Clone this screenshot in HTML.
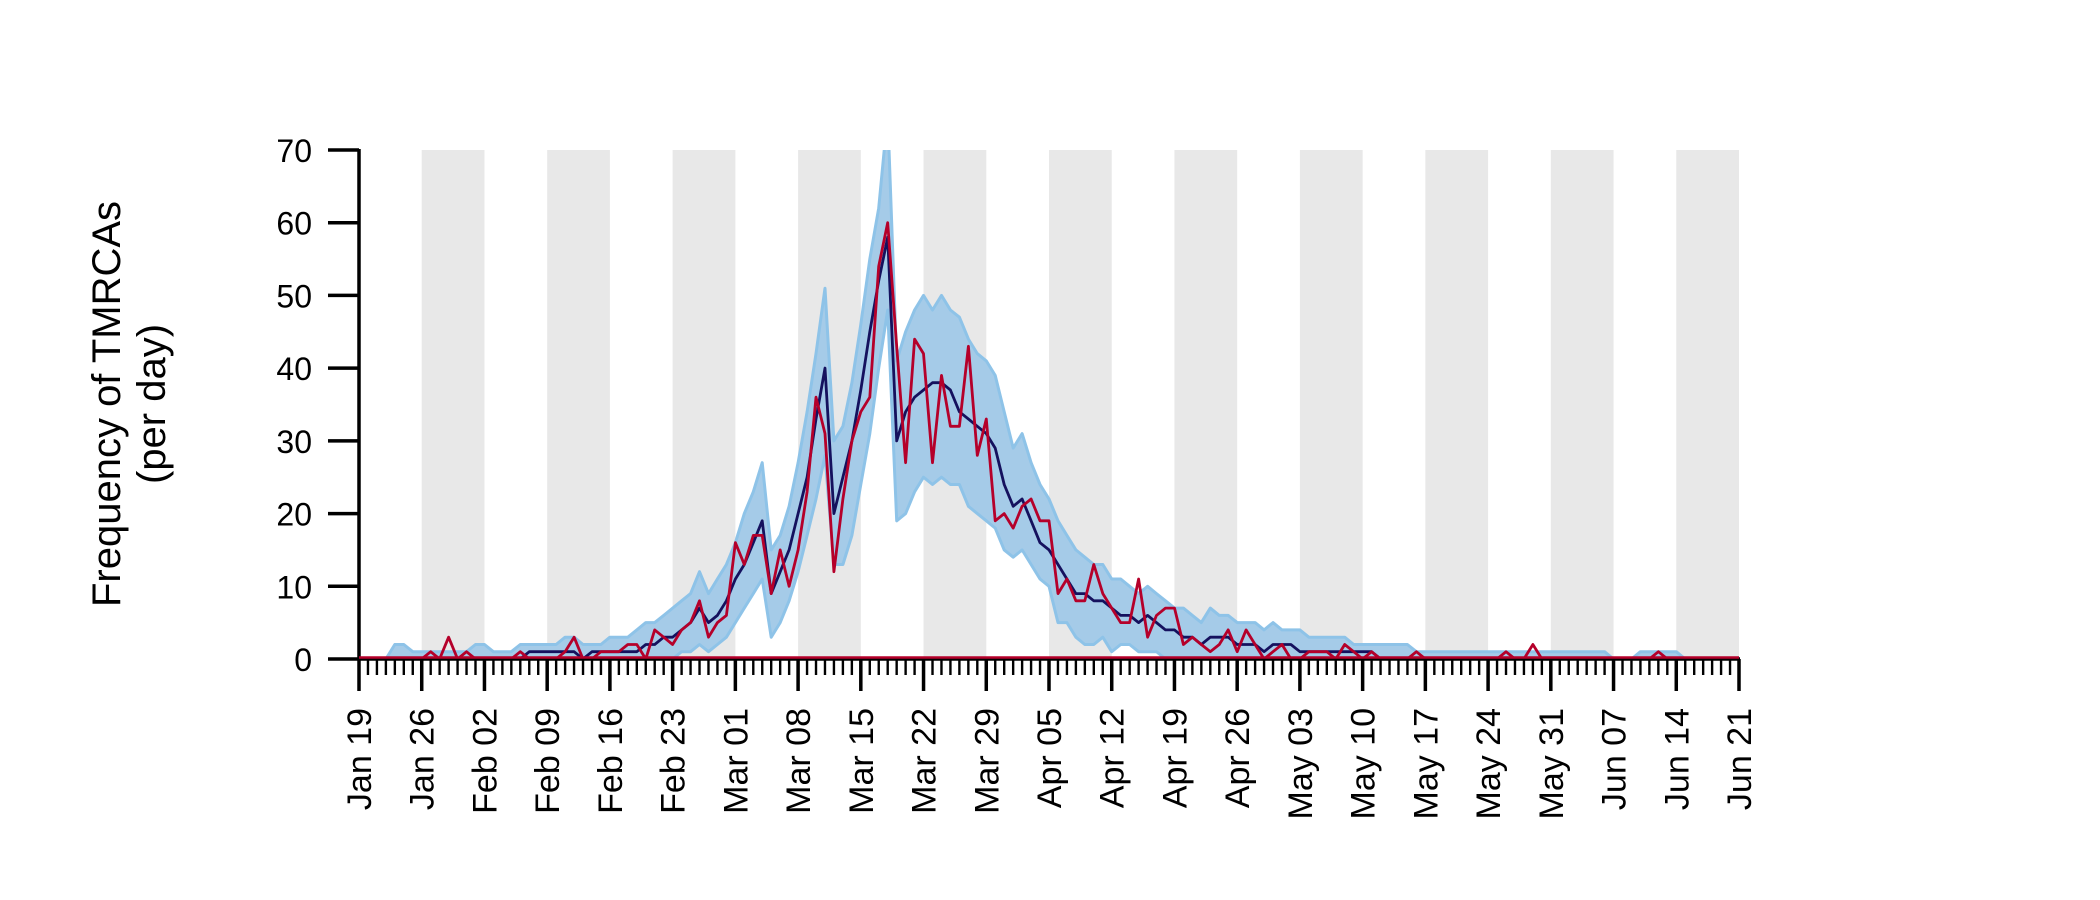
<!DOCTYPE html>
<html><head><meta charset="utf-8"><style>
html,body{margin:0;padding:0;background:#fff;}
svg{display:block;font-family:"Liberation Sans",Arial,sans-serif;}
</style></head><body>
<svg id="chart" width="2100" height="900" viewBox="0 0 2100 900">
<defs><clipPath id="plotclip"><rect x="359" y="150" width="1381" height="520"/></clipPath></defs>
<g id="bands"></g>
<g id="series" clip-path="url(#plotclip)"></g>
<g id="axes"></g>
<text transform="translate(107,404) rotate(-90)" text-anchor="middle" dominant-baseline="central" font-size="40" fill="#000">Frequency of TMRCAs</text>
<text transform="translate(152,404) rotate(-90)" text-anchor="middle" dominant-baseline="central" font-size="40" fill="#000">(per day)</text>
</svg>
<script>
const weekLabels = ["Jan 19","Jan 26","Feb 02","Feb 09","Feb 16","Feb 23","Mar 01","Mar 08","Mar 15","Mar 22","Mar 29","Apr 05","Apr 12","Apr 19","Apr 26","May 03","May 10","May 17","May 24","May 31","Jun 07","Jun 14","Jun 21"];
const yTicks = [0,10,20,30,40,50,60,70];
const observed = [
0,0,0,0,0,0,0,0,1,0, 3,0,1,0,0,0,0,0,1,0, 0,0,0,1,3,0,0,1,1,1,
2,2,0,4,3,2,4,5,8,3, 5,6,16,13,17,17,9,15,10,15, 23,36,31,12,22,30,34,36,54,60,
43,27,44,42,27,39,32,32,43,28, 33,19,20,18,21,22,19,19,9,11, 8,8,13,9,7,5,5,11,3,6,
7,7,2,3,2,1,2,4,1,4, 2,0,1,2,0,0,1,1,1,0, 2,1,0,1,0,0,0,0,1,0,
0,0,0,0,0,0,0,0,1,0, 0,2,0,0,0,0,0,0,0,0, 0,0,0,0,0,1,0,0,0,0, 0,0,0,0,0];
const meanVals = [
0,0,0,0,0,0,0,0,0,0, 0,0,0,0,0,0,0,0,0,1, 1,1,1,1,1,0,1,1,1,1,
1,1,2,2,3,3,4,5,7,5, 6,8,11,13,16,19,9,12,15,20, 25,33,40,20,25,30,37,45,52,58,
30,34,36,37,38,38,37,34,33,32, 31,29,24,21,22,19,16,15,13,11, 9,9,8,8,7,6,6,5,6,5,
4,4,3,3,2,3,3,3,2,2, 2,1,2,2,2,1,1,1,1,1, 1,1,1,1,0,0,0,0,0,0,
0,0,0,0,0,0,0,0,0,0, 0,0,0,0,0,0,0,0,0,0, 0,0,0,0,0,0,0,0,0,0, 0,0,0,0,0];
const upperVals = [
0,0,0,0,2,2,1,1,1,1, 1,1,1,2,2,1,1,1,2,2, 2,2,2,3,3,2,2,2,3,3,
3,4,5,5,6,7,8,9,12,9, 11,13,16,20,23,27,15,17,21,27, 34,42,51,30,32,38,46,55,62,75,
41,45,48,50,48,50,48,47,44,42, 41,39,34,29,31,27,24,22,19,17, 15,14,13,13,11,11,10,9,10,9,
8,7,7,6,5,7,6,6,5,5, 5,4,5,4,4,4,3,3,3,3, 3,2,2,2,2,2,2,2,1,1,
1,1,1,1,1,1,1,1,1,1, 1,1,1,1,1,1,1,1,1,1, 0,0,0,1,1,1,1,1,0,0, 0,0,0,0,0];
const lowerVals = [
0,0,0,0,0,0,0,0,0,0, 0,0,0,0,0,0,0,0,0,0, 0,0,0,0,0,0,0,0,0,0,
0,0,0,0,0,0,1,1,2,1, 2,3,5,7,9,11,3,5,8,12, 17,22,28,13,13,17,24,31,40,48,
19,20,23,25,24,25,24,24,21,20, 19,18,15,14,15,13,11,10,5,5, 3,2,2,3,1,2,2,1,1,1,
0,0,0,0,0,0,0,0,0,0, 0,0,0,0,0,0,0,0,0,0, 0,0,0,0,0,0,0,0,0,0,
0,0,0,0,0,0,0,0,0,0, 0,0,0,0,0,0,0,0,0,0, 0,0,0,0,0,0,0,0,0,0, 0,0,0,0,0];

const NS='http://www.w3.org/2000/svg';
const X0=359, X1=1739, Y0=659, Y1=150, NDAYS=154, YMAX=70;
const xs = d => X0 + d*(X1-X0)/NDAYS;
const ys = v => Y0 - v*(Y0-Y1)/YMAX;
function mk(tag, attrs, parent){const e=document.createElementNS(NS,tag);for(const k in attrs)e.setAttribute(k,attrs[k]);parent.appendChild(e);return e;}
const bands=document.getElementById('bands'), series=document.getElementById('series'), axes=document.getElementById('axes');

for(let w=1; w<weekLabels.length-1; w+=2){
  const r=mk('rect',{x:xs(w*7),y:Y1,width:xs(w*7+7)-xs(w*7),height:Y0-Y1,fill:'#e8e8e8'},bands);
  
  
}
let pts=[];
for(let i=0;i<upperVals.length;i++) pts.push(xs(i).toFixed(1)+','+ys(upperVals[i]).toFixed(1));
for(let i=lowerVals.length-1;i>=0;i--) pts.push(xs(i).toFixed(1)+','+ys(lowerVals[i]).toFixed(1));
const rib=mk('polygon',{points:pts.join(' '),fill:'#a5cbe8',stroke:'#8ec3e8','stroke-width':3,'stroke-linejoin':'round'},series);


function line(vals,color,name){
  const p=vals.map((v,i)=>xs(i).toFixed(1)+','+ys(v).toFixed(1)).join(' ');
  const l=mk('polyline',{points:p,fill:'none',stroke:color,'stroke-width':2.8,'stroke-linejoin':'round'},series);
  
  
}
line(meanVals,'#15115e','mean-line');
line(observed,'#b5002a','observed-line');

const ya=mk('line',{x1:X0,y1:Y1-1,x2:X0,y2:Y0+1,stroke:'#000','stroke-width':3.5},axes);


const xa=mk('line',{x1:X0-1,y1:Y0,x2:X1+1,y2:Y0,stroke:'#000','stroke-width':3.5},axes);


const zl=mk('line',{x1:X0,y1:Y0-1.5,x2:X1,y2:Y0-1.5,stroke:'#b5002a','stroke-width':2.5},axes);


yTicks.forEach(v=>{
  const t=mk('line',{x1:X0-31,y1:ys(v),x2:X0,y2:ys(v),stroke:'#000','stroke-width':3.5},axes);
  
  
  const tx=mk('text',{x:312,y:ys(v)+12,'text-anchor':'end','font-size':32,fill:'#000'},axes);
  tx.textContent=v;
  
  
});
for(let d=0; d<=NDAYS; d++){
  const major=d%7===0;
  const t=mk('line',{x1:xs(d),y1:Y0,x2:xs(d),y2:major?691:675,stroke:'#000','stroke-width':major?3.5:2.4},axes);
  
  
}
weekLabels.forEach((lab,w)=>{
  const x=xs(w*7);
  const tx=mk('text',{transform:'translate('+(x+12)+',708) rotate(-90)','text-anchor':'end','font-size':34,fill:'#000'},axes);
  tx.textContent=lab;
  
  
});
</script>
</body></html>
